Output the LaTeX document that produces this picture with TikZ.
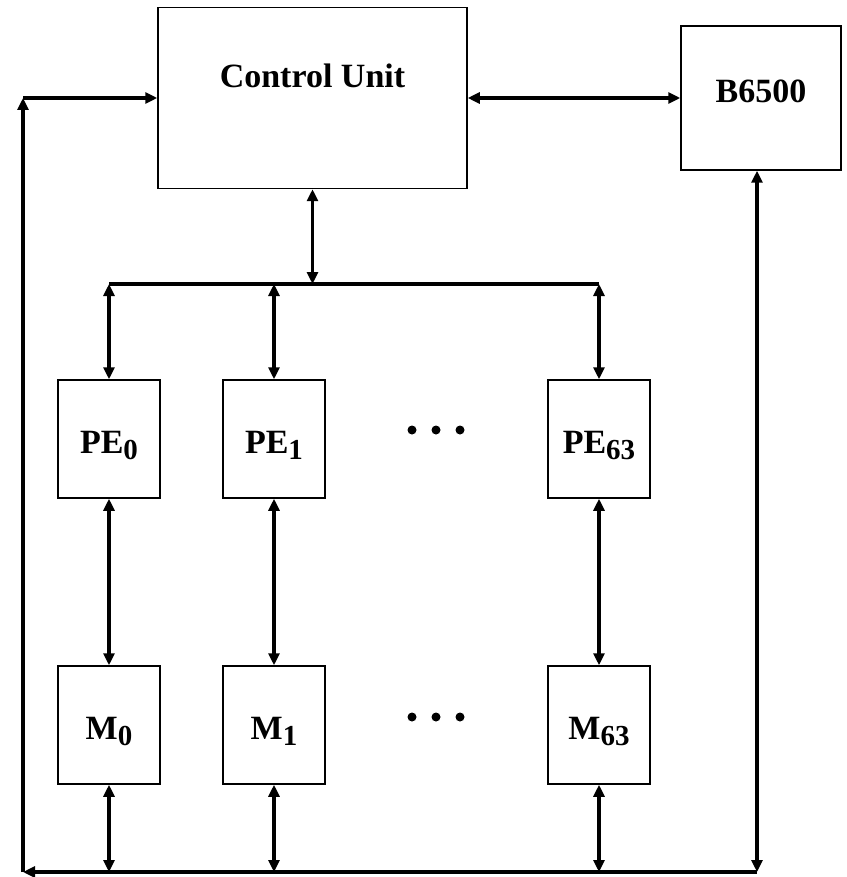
\documentclass[tikz,border=0pt]{standalone}
\usepackage{fontspec}
\setmainfont{Liberation Serif}
\usetikzlibrary{arrows.meta}
\newcommand{\subidx}[1]{\raisebox{-6pt}{\fontsize{29}{29}\selectfont #1}}
\begin{document}
\begin{tikzpicture}[x=1pt,y=-1pt,
  box/.style={draw, line width=1.5pt, inner sep=0pt, font=\fontsize{34}{40}\selectfont\bfseries},
  pebox/.style={box, minimum width=102pt, minimum height=118pt, text height=28pt, text depth=0pt},
  conn/.style={line width=3.2pt},
  tip/.style={-{Triangle[length=12pt,width=11pt]}},
  dbl/.style={conn, {Triangle[length=12pt,width=11pt]}-{Triangle[length=12pt,width=11pt]}},
  dotmark/.style={circle, fill=black, inner sep=0pt, minimum size=9pt}]
\useasboundingbox (0,0) rectangle (846,877);
% boxes
\node[box, minimum width=309pt, minimum height=181pt, text height=0pt, text depth=21pt] (CU) at (312.5,98) {Control Unit};
\node[box, minimum width=160pt, minimum height=144pt, text height=24pt, text depth=14pt] (B) at (761,98) {B6500};
\node[pebox] (PE0) at (109,439) {PE\subidx{0}};
\node[pebox] (PE1) at (274,439) {PE\subidx{1}};
\node[pebox] (PE63) at (599,439) {PE\subidx{63}};
\node[pebox] (M0) at (109,725) {M\subidx{0}};
\node[pebox] (M1) at (274,725) {M\subidx{1}};
\node[pebox] (M63) at (599,725) {M\subidx{63}};
% dots
\node[dotmark] (d1) at (412,430) {};
\node[dotmark] (d2) at (436,430) {};
\node[dotmark] (d3) at (460,430) {};
\node[dotmark] (e1) at (412,717) {};
\node[dotmark] (e2) at (436,717) {};
\node[dotmark] (e3) at (460,717) {};
% coordinates
\coordinate (busL) at (109,284);
\coordinate (busM) at (312.5,284);
\coordinate (busP1) at (274,284);
\coordinate (busR) at (599,284);
\coordinate (bl) at (23,872);
\coordinate (tl) at (23,98);
\coordinate (br) at (757,872);
\coordinate (b0) at (109,872);
\coordinate (b1) at (274,872);
\coordinate (b63) at (599,872);
% bus
\draw[conn] (busL) -- (busR);
\draw[dbl] (CU.south) -- (busM);
\draw[dbl] (busL) -- (PE0.north);
\draw[dbl] (busP1) -- (PE1.north);
\draw[dbl] (busR) -- (PE63.north);
% PE to M
\draw[dbl] (PE0) -- (M0);
\draw[dbl] (PE1) -- (M1);
\draw[dbl] (PE63) -- (M63);
% M to bottom
\draw[dbl] (M0.south) -- (b0);
\draw[dbl] (M1.south) -- (b1);
\draw[dbl] (M63.south) -- (b63);
% outer loop
\draw[conn, tip] (br) -- (bl);
\draw[conn, tip] (bl) -- (tl);
\draw[conn, tip] (tl) -- (CU.west);
\draw[dbl] (CU.east) -- (B.west);
\draw[dbl] (br) -- (br |- B.south);
\end{tikzpicture}
\end{document}
